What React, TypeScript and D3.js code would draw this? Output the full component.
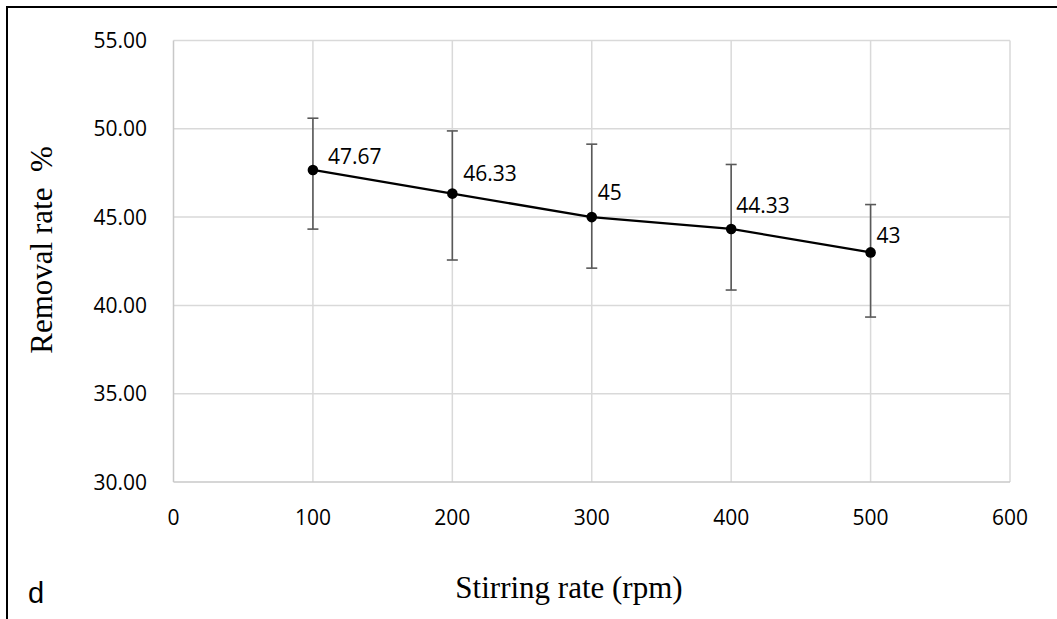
import React, { useEffect, useRef } from "react";
import * as d3 from "d3";

const stirringRates = [100, 200, 300, 400, 500];
const removalRates = [47.67, 46.33, 45, 44.33, 43];
const errorUpper = [50.6, 49.88, 49.13, 47.98, 45.71];
const errorLower = [44.32, 42.57, 42.11, 40.87, 39.34];
const pointLabels = ["47.67", "46.33", "45", "44.33", "43"];
const labelOffsets: [number, number][] = [
  [15, -14],
  [11, -20],
  [6, -25],
  [5, -23],
  [6, -17],
];
const xTicks = [0, 100, 200, 300, 400, 500, 600];
const yTicks = [30, 35, 40, 45, 50, 55];
const xTitle = "Stirring rate (rpm)";
const yTitle = "Removal rate  %";
const panelLetter = "d";

const W = 1057;
const H = 619;

export default function App() {
  const ref = useRef<SVGSVGElement>(null);

  useEffect(() => {
    const svg = d3.select(ref.current);
    svg.selectAll("*").remove();

    const x = d3.scaleLinear().domain([0, 600]).range([173.5, 1010]);
    const y = d3.scaleLinear().domain([30, 55]).range([482, 40.5]);

    svg.append("rect").attr("width", W).attr("height", H).attr("fill", "#fff");

    // outer frame (top + left)
    svg
      .append("path")
      .attr("d", `M7,${H} L7,7 L${W},7`)
      .attr("fill", "none")
      .attr("stroke", "#000")
      .attr("stroke-width", 2);

    const grid = svg.append("g");
    yTicks.forEach((t) => {
      if (t === 30) return;
      grid
        .append("line")
        .attr("x1", x(0))
        .attr("x2", x(600))
        .attr("y1", y(t))
        .attr("y2", y(t))
        .attr("stroke", "#d9d9d9")
        .attr("stroke-width", 1.5);
    });
    xTicks.forEach((t) => {
      if (t === 0) return;
      grid
        .append("line")
        .attr("x1", x(t))
        .attr("x2", x(t))
        .attr("y1", y(30))
        .attr("y2", y(55))
        .attr("stroke", "#d9d9d9")
        .attr("stroke-width", 1.5);
    });
    // axes lines
    grid
      .append("line")
      .attr("x1", x(0))
      .attr("x2", x(0))
      .attr("y1", y(30))
      .attr("y2", y(55))
      .attr("stroke", "#c8c8c8")
      .attr("stroke-width", 1.5);
    grid
      .append("line")
      .attr("x1", x(0))
      .attr("x2", x(600))
      .attr("y1", y(30))
      .attr("y2", y(30))
      .attr("stroke", "#c8c8c8")
      .attr("stroke-width", 1.5);

    const tickFont = "'Open Sans', 'Noto Sans', sans-serif";
    svg
      .append("g")
      .selectAll("text")
      .data(yTicks)
      .join("text")
      .attr("x", 147)
      .attr("y", (d) => y(d))
      .attr("dy", "0.36em")
      .attr("text-anchor", "end")
      .attr("font-family", tickFont)
      .attr("font-size", 21)
      .attr("fill", "#000")
      .text((d) => d3.format(".2f")(d));

    svg
      .append("g")
      .selectAll("text")
      .data(xTicks)
      .join("text")
      .attr("x", (d) => x(d))
      .attr("y", 517)
      .attr("dy", "0.36em")
      .attr("text-anchor", "middle")
      .attr("font-family", tickFont)
      .attr("font-size", 21)
      .attr("fill", "#000")
      .text((d) => String(d));

    // error bars
    const eb = svg.append("g").attr("stroke", "#595959").attr("stroke-width", 1.6);
    stirringRates.forEach((r, i) => {
      const cx = x(r);
      eb.append("line")
        .attr("x1", cx)
        .attr("x2", cx)
        .attr("y1", y(errorUpper[i]))
        .attr("y2", y(errorLower[i]));
      [errorUpper[i], errorLower[i]].forEach((v) => {
        eb.append("line")
          .attr("x1", cx - 5.5)
          .attr("x2", cx + 5.5)
          .attr("y1", y(v))
          .attr("y2", y(v));
      });
    });

    const data = stirringRates.map((r, i) => [r, removalRates[i]] as [number, number]);
    const line = d3
      .line<[number, number]>()
      .x((d) => x(d[0]))
      .y((d) => y(d[1]));
    svg
      .append("path")
      .datum(data)
      .attr("d", line)
      .attr("fill", "none")
      .attr("stroke", "#000")
      .attr("stroke-width", 2.25);

    svg
      .append("g")
      .selectAll("circle")
      .data(data)
      .join("circle")
      .attr("cx", (d) => x(d[0]))
      .attr("cy", (d) => y(d[1]))
      .attr("r", 5.3)
      .attr("fill", "#000");

    svg
      .append("g")
      .selectAll("text")
      .data(data)
      .join("text")
      .attr("x", (d, i) => x(d[0]) + labelOffsets[i][0])
      .attr("y", (d, i) => y(d[1]) + labelOffsets[i][1])
      .attr("dy", "0.36em")
      .attr("font-family", tickFont)
      .attr("font-size", 21)
      .attr("fill", "#000")
      .text((d, i) => pointLabels[i]);

    const serif = "'Liberation Serif', 'Times New Roman', serif";
    svg
      .append("text")
      .attr("x", 569)
      .attr("y", 598)
      .attr("text-anchor", "middle")
      .attr("font-family", serif)
      .attr("font-size", 31)
      .attr("fill", "#000")
      .text(xTitle);

    svg
      .append("text")
      .attr("transform", `translate(52, 250) rotate(-90)`)
      .attr("text-anchor", "middle")
      .attr("font-family", serif)
      .attr("font-size", 31)
      .attr("fill", "#000")
      .attr("xml:space", "preserve")
      .style("white-space", "pre")
      .text(yTitle);

    svg
      .append("text")
      .attr("x", 28)
      .attr("y", 603)
      .attr("font-family", "'Liberation Sans', Arial, sans-serif")
      .attr("font-size", 29)
      .attr("fill", "#000")
      .text(panelLetter);
  }, []);

  return (
    <svg
      ref={ref}
      width={W}
      height={H}
      style={{ position: "absolute", left: 0, top: 0, display: "block" }}
    />
  );
}
